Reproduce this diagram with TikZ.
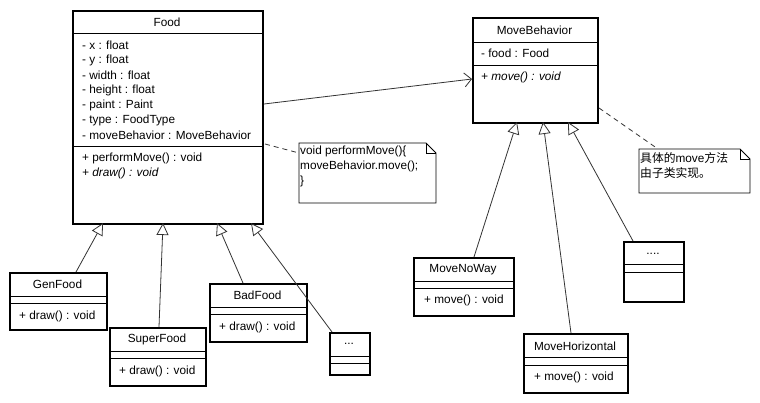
\documentclass[tikz,border=0pt]{standalone}
\usepackage{fontspec}
\setmainfont{Liberation Sans}
\newfontfamily\cjk{Noto Sans CJK SC}
\usetikzlibrary{arrows.meta,calc}
\begin{document}
\begin{tikzpicture}[x=1pt,y=-1pt,
  every node/.style={font=\fontsize{11.8}{13}\selectfont},
  classbox/.style={draw=black,line width=2pt,anchor=north west,inner sep=0pt,fill=white},
  sep/.style={line width=0.9pt},
  lbl/.style={anchor=west,inner sep=0pt},
  ttl/.style={inner sep=0pt},
  conn/.style={line width=0.8pt,draw=black!80},
  inherit/.style={conn,-{Triangle[open,length=12pt,width=12pt,line width=0.8pt]}},
  assoc/.style={conn,-{Straight Barb[length=7pt,width=14pt,line width=0.8pt]}},
  notelink/.style={conn,dashed,dash pattern=on 5pt off 4pt},
  notebox/.style={line width=0.8pt,draw=black,fill=white}]
\useasboundingbox (0,0) rectangle (760,402);
\fill[white] (0,0) rectangle (760,402);

% ---------- Food ----------
\node[classbox,minimum width=190pt,minimum height=213pt] (food) at (72,10) {};
\draw[sep] (72,33) -- (262,33);
\draw[sep] (72,146) -- (262,146);
\node[ttl] (foodt) at (167,22) {Food};
\node[lbl] (fa1) at (82,45) {- x : float};
\node[lbl] (fa2) at (82,60.5) {- y : float};
\node[lbl] (fa3) at (82,75.5) {- width : float};
\node[lbl] (fa4) at (82,90.5) {- height : float};
\node[lbl] (fa5) at (82,105.5) {- paint : Paint};
\node[lbl] (fa6) at (82,120.5) {- type : FoodType};
\node[lbl] (fa7) at (82,135.5) {- moveBehavior : MoveBehavior};
\node[lbl] (fm1) at (82,158) {+ performMove() : void};
\node[lbl] (fm2) at (82,173) {\itshape + draw() : void};

% ---------- MoveBehavior ----------
\node[classbox,minimum width=125pt,minimum height=105pt] (mb) at (472,17) {};
\draw[sep] (472,42) -- (597,42);
\draw[sep] (472,65) -- (597,65);
\node[ttl] (mbt) at (534.5,30.5) {MoveBehavior};
\node[lbl] (mba) at (481,53) {- food : Food};
\node[lbl] (mbm) at (481,77) {\itshape + move() : void};

% ---------- Food subclasses ----------
\node[classbox,minimum width=97pt,minimum height=57pt] (gen) at (9,272) {};
\draw[sep] (9,296) -- (106,296);
\draw[sep] (9,303) -- (106,303);
\node[ttl] (gent) at (57.5,284.5) {GenFood};
\node[lbl] (genm) at (19,316) {+ draw() : void};

\node[classbox,minimum width=96pt,minimum height=58pt] (sup) at (109,327) {};
\draw[sep] (109,351) -- (205,351);
\draw[sep] (109,358) -- (205,358);
\node[ttl] (supt) at (157,339.5) {SuperFood};
\node[lbl] (supm) at (119,371) {+ draw() : void};

\node[classbox,minimum width=97pt,minimum height=58pt] (bad) at (209,283) {};
\draw[sep] (209,307) -- (306,307);
\draw[sep] (209,314) -- (306,314);
\node[ttl] (badt) at (257.5,295.5) {BadFood};
\node[lbl] (badm) at (219,327) {+ draw() : void};

\node[classbox,minimum width=40pt,minimum height=42pt] (dots) at (329,332) {};
\draw[sep] (329,356) -- (369,356);
\draw[sep] (329,363) -- (369,363);
\node[ttl] (dotst) at (349,344) {...};

% ---------- MoveBehavior subclasses ----------
\node[classbox,minimum width=100pt,minimum height=58pt] (noway) at (413,257) {};
\draw[sep] (413,281) -- (513,281);
\draw[sep] (413,288) -- (513,288);
\node[ttl] (nowayt) at (463,269.5) {MoveNoWay};
\node[lbl] (nowaym) at (424,300.5) {+ move() : void};

\node[classbox,minimum width=104pt,minimum height=59pt] (hor) at (523,333) {};
\draw[sep] (523,357) -- (627,357);
\draw[sep] (523,365) -- (627,365);
\node[ttl] (hort) at (575,346) {MoveHorizontal};
\node[lbl] (horm) at (534,377.5) {+ move() : void};

\node[classbox,minimum width=60pt,minimum height=60pt] (mdots) at (623,241) {};
\draw[sep] (623,264) -- (683,264);
\draw[sep] (623,272) -- (683,272);
\node[ttl] (mdotst) at (653,254) {....};

% ---------- Notes ----------
\draw[notebox] (299,143) -- (426,143) -- (436,153) -- (436,203) -- (299,203) -- cycle;
\draw[line width=0.8pt] (426,143) -- (426,153) -- (436,153);
\node[lbl,anchor=north west,align=left,font=\fontsize{11.8}{15}\selectfont] (note1) at (300,146)
  {void performMove()\{\\moveBehavior.move();\\\}};
\coordinate (n1l) at (299,153);

\draw[notebox] (639,149) -- (740,149) -- (750,159) -- (750,193) -- (639,193) -- cycle;
\draw[line width=0.8pt] (740,149) -- (740,159) -- (750,159);
\node[lbl,anchor=north west,align=left,font=\fontsize{11.8}{15}\selectfont] (note2) at (640,152)
  {{\cjk 具体的}move{\cjk 方法}\\{\cjk 由子类实现。}};
\coordinate (n2t) at (658,149);

% ---------- connectors ----------
\draw[assoc] (food.east |- 0,104) -- (mb.west |- 0,79);
\draw[notelink] (265,144) -- (n1l);
\draw[notelink] (mb.east |- 0,108) -- (n2t);

\draw[inherit] (76,272) -- (103,223);
\draw[inherit] (159,327) -- (163,223);
\draw[inherit] (243,283) -- (217,223);
\draw[inherit] (332,332) -- (251,223);

\draw[inherit] (474,257) -- (517,122);
\draw[inherit] (571,333) -- (543,122);
\draw[inherit] (633,241) -- (568,122);
\end{tikzpicture}
\end{document}
